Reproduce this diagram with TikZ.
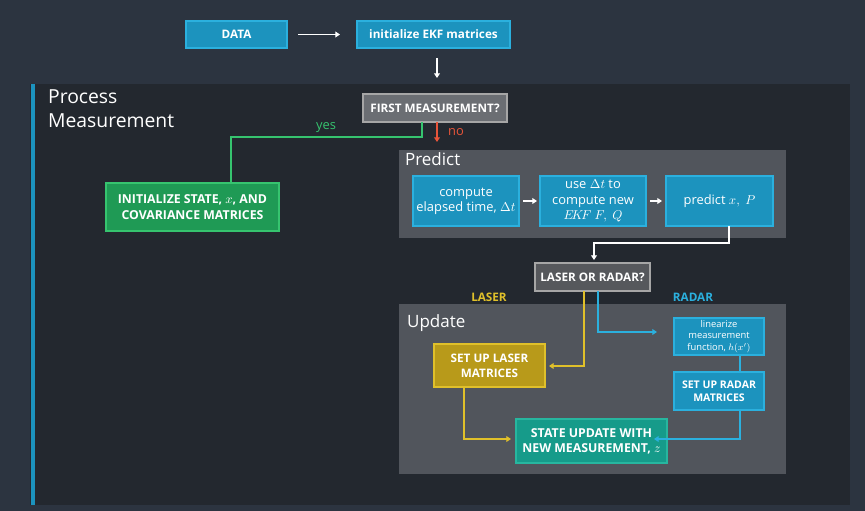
\documentclass[tikz,border=0pt]{standalone}
\usepackage{fontspec}
\setmainfont{Open Sans}
\usetikzlibrary{arrows.meta}
\definecolor{bg}{HTML}{2C3440}
\definecolor{panel}{HTML}{23282F}
\definecolor{gpanel}{HTML}{51555C}
\definecolor{bl}{HTML}{1C93BE}
\definecolor{blb}{HTML}{2BB0DE}
\definecolor{grn}{HTML}{1F9A55}
\definecolor{grnb}{HTML}{36C46F}
\definecolor{yel}{HTML}{B89A1A}
\definecolor{yelb}{HTML}{E0C02A}
\definecolor{teal}{HTML}{169B8A}
\definecolor{tealb}{HTML}{2EC2A8}
\definecolor{gq}{HTML}{6B6E73}
\definecolor{rd}{HTML}{E8553A}
\begin{document}
\begin{tikzpicture}[x=0.03cm,y=-0.03cm,
 box/.style={draw=blb,fill=bl,line width=1pt,text=white,align=center,inner sep=1pt,font=\fontsize{11}{13}\selectfont},
 capbox/.style={box,font=\bfseries\fontsize{10}{12.5}\selectfont},
 ar/.style={-{Triangle[length=4pt,width=5pt]},line width=1.2pt}]
\fill[bg] (0,0) rectangle (865,511);
\useasboundingbox (0,0) rectangle (865,511);
\fill[panel] (30,84) rectangle (850,505);
\fill[bl] (31,84) rectangle (35,505);
\node[anchor=north west,text=white,align=left,font=\fontsize{16.5}{20}\selectfont] (pm) at (44,86) {Process\\Measurement};
\fill[gpanel] (399,150) rectangle (786,238);
\node[anchor=north west,text=white,font=\fontsize{14.5}{16}\selectfont] (pr) at (401,148) {Predict};
\fill[gpanel] (399,304) rectangle (786,474);
\node[anchor=north west,text=white,font=\fontsize{14.5}{16}\selectfont] (up) at (403,310) {Update};
% top
\node[capbox,minimum width=101*0.03cm,minimum height=27*0.03cm] (data) at (236.5,34.5) {DATA};
\node[capbox,minimum width=153*0.03cm,minimum height=27*0.03cm] (init) at (433.5,34.5) {initialize EKF matrices};
\draw[ar,white] (298,34.5) -- (340,34.5);
\node[capbox,fill=gq,draw=gray!70,minimum width=144*0.03cm,minimum height=28*0.03cm] (first) at (435,108) {FIRST MEASUREMENT?};
\draw[ar,white] (437,58) -- (437,78);
\node[capbox,font=\bfseries\fontsize{10.5}{13}\selectfont,fill=grn,draw=grnb,minimum width=173*0.03cm,minimum height=48*0.03cm] (ist) at (192.5,207) {INITIALIZE STATE, $x$, AND\\COVARIANCE MATRICES};
\draw[grnb,line width=1.2pt] (422,122) -- (422,137) -- (231,137) -- (231,183);
\node[text=grnb,font=\fontsize{11}{13}\selectfont] (yes) at (326,128) {yes};
\draw[ar,rd] (437,122) -- (437,142);
\node[text=rd,font=\fontsize{11}{13}\selectfont,anchor=west] (no) at (444,132) {no};
% predict
\node[box,minimum width=106*0.03cm,minimum height=50*0.03cm] (cmp) at (466,201) {compute\\elapsed time, $\Delta t$};
\node[box,minimum width=106*0.03cm,minimum height=50*0.03cm] (use) at (593,201) {use $\Delta t$ to\\compute new\\$E\!K\!F\ F,\ Q$};
\node[box,minimum width=107*0.03cm,minimum height=50*0.03cm] (pred) at (719.5,201) {predict $x,\ P$};
\draw[ar,white] (523,201) -- (537,201);
\draw[ar,white] (650,201) -- (662,201);
\node[capbox,fill=gq!80!black,draw=gray!70,minimum width=115*0.03cm,minimum height=28*0.03cm] (lr) at (592.5,277) {LASER OR RADAR?};
\draw[ar,white] (729,226) -- (729,243) -- (594,243) -- (594,260);
\node[text=yelb,font=\bfseries\fontsize{10}{12}\selectfont] (lz) at (489,297) {LASER};
\node[text=blb,font=\bfseries\fontsize{10}{12}\selectfont] (rz) at (693,297) {RADAR};
% update
\node[capbox,fill=yel,draw=yelb,minimum width=111*0.03cm,minimum height=43*0.03cm] (sl) at (489.5,365.5) {SET UP LASER\\MATRICES};
\node[box,font=\fontsize{8}{10}\selectfont,minimum width=90*0.03cm,minimum height=37*0.03cm] (lin) at (719,336.5) {linearize\\measurement\\function, $h(x')$};
\node[capbox,font=\bfseries\fontsize{9}{11.5}\selectfont,minimum width=90*0.03cm,minimum height=38*0.03cm] (sr) at (719,391) {SET UP RADAR\\MATRICES};
\node[capbox,font=\bfseries\fontsize{10.5}{13}\selectfont,fill=teal,draw=tealb!70!teal,minimum width=151*0.03cm,minimum height=44*0.03cm] (su) at (591.5,441) {STATE UPDATE WITH\\NEW MEASUREMENT, $z$};
\draw[ar,yelb] (584,291) -- (584,366) -- (549,366);
\draw[ar,blb] (598,291) -- (598,332) -- (657,332);
\draw[blb,line width=1.2pt] (740,355) -- (740,372);
\draw[ar,blb] (740,410) -- (740,439) -- (654,439);
\draw[ar,yelb] (464,387) -- (464,439) -- (511,439);
\end{tikzpicture}
\end{document}
